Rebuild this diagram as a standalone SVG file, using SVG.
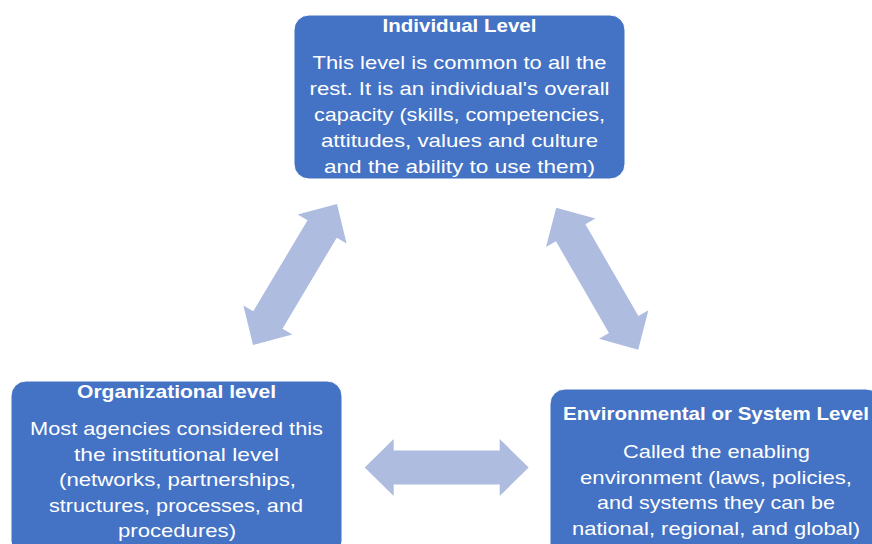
<svg xmlns="http://www.w3.org/2000/svg" width="872" height="544" viewBox="0 0 872 544">
<defs>
<style>
.box{fill:#4472C4;stroke:#ffffff;stroke-width:1}
.t{font-family:"Liberation Sans",Arial,sans-serif;fill:#ffffff;text-anchor:middle;font-size:19px}
.b{font-weight:bold}
.arr{fill:#AEBCE0}
</style>
<path id="dbl" d="M -82 0 L -53 -28.5 L -53 -17 L 53 -17 L 53 -28.5 L 82 0 L 53 28.5 L 53 17 L -53 17 L -53 28.5 Z"/>
</defs>
<rect width="872" height="544" fill="#ffffff"/>
<g id="connectors">
<use href="#dbl" class="arr" transform="translate(295 274.5) rotate(-59.2)"/>
<use href="#dbl" class="arr" transform="translate(597.2 278.7) rotate(60)"/>
<use href="#dbl" class="arr" transform="translate(446.7 467.5)"/>
</g>
<g id="individual">
<rect class="box" x="294" y="15" width="331" height="164" rx="15"/>
<text class="t b" x="459.5" y="32" textLength="154" lengthAdjust="spacingAndGlyphs">Individual Level</text>
<text class="t" x="459.5" y="69" textLength="294" lengthAdjust="spacingAndGlyphs">This level is common to all the</text>
<text class="t" x="459.5" y="95" textLength="300" lengthAdjust="spacingAndGlyphs">rest. It is an individual's overall</text>
<text class="t" x="459.5" y="121" textLength="291" lengthAdjust="spacingAndGlyphs">capacity (skills, competencies,</text>
<text class="t" x="459.5" y="147" textLength="277" lengthAdjust="spacingAndGlyphs">attitudes, values and culture</text>
<text class="t" x="459.5" y="173" textLength="271" lengthAdjust="spacingAndGlyphs">and the ability to use them)</text>
</g>
<g id="organizational">
<rect class="box" x="11" y="381" width="331" height="175" rx="15"/>
<text class="t b" x="176.5" y="398" textLength="199" lengthAdjust="spacingAndGlyphs">Organizational level</text>
<text class="t" x="176.5" y="435" textLength="293" lengthAdjust="spacingAndGlyphs">Most agencies considered this</text>
<text class="t" x="176.5" y="461" textLength="205" lengthAdjust="spacingAndGlyphs">the institutional level</text>
<text class="t" x="177.5" y="486" textLength="237" lengthAdjust="spacingAndGlyphs">(networks, partnerships,</text>
<text class="t" x="176" y="512" textLength="254" lengthAdjust="spacingAndGlyphs">structures, processes, and</text>
<text class="t" x="177" y="537" textLength="118" lengthAdjust="spacingAndGlyphs">procedures)</text>
</g>
<g id="environmental">
<rect class="box" x="550" y="389" width="331" height="170" rx="15"/>
<text class="t b" x="716" y="420" textLength="306" lengthAdjust="spacingAndGlyphs">Environmental or System Level</text>
<text class="t" x="716.5" y="458" textLength="187" lengthAdjust="spacingAndGlyphs">Called the enabling</text>
<text class="t" x="716" y="484" textLength="272" lengthAdjust="spacingAndGlyphs">environment (laws, policies,</text>
<text class="t" x="716" y="509" textLength="238" lengthAdjust="spacingAndGlyphs">and systems they can be</text>
<text class="t" x="716" y="535" textLength="288" lengthAdjust="spacingAndGlyphs">national, regional, and global)</text>
</g>
</svg>
